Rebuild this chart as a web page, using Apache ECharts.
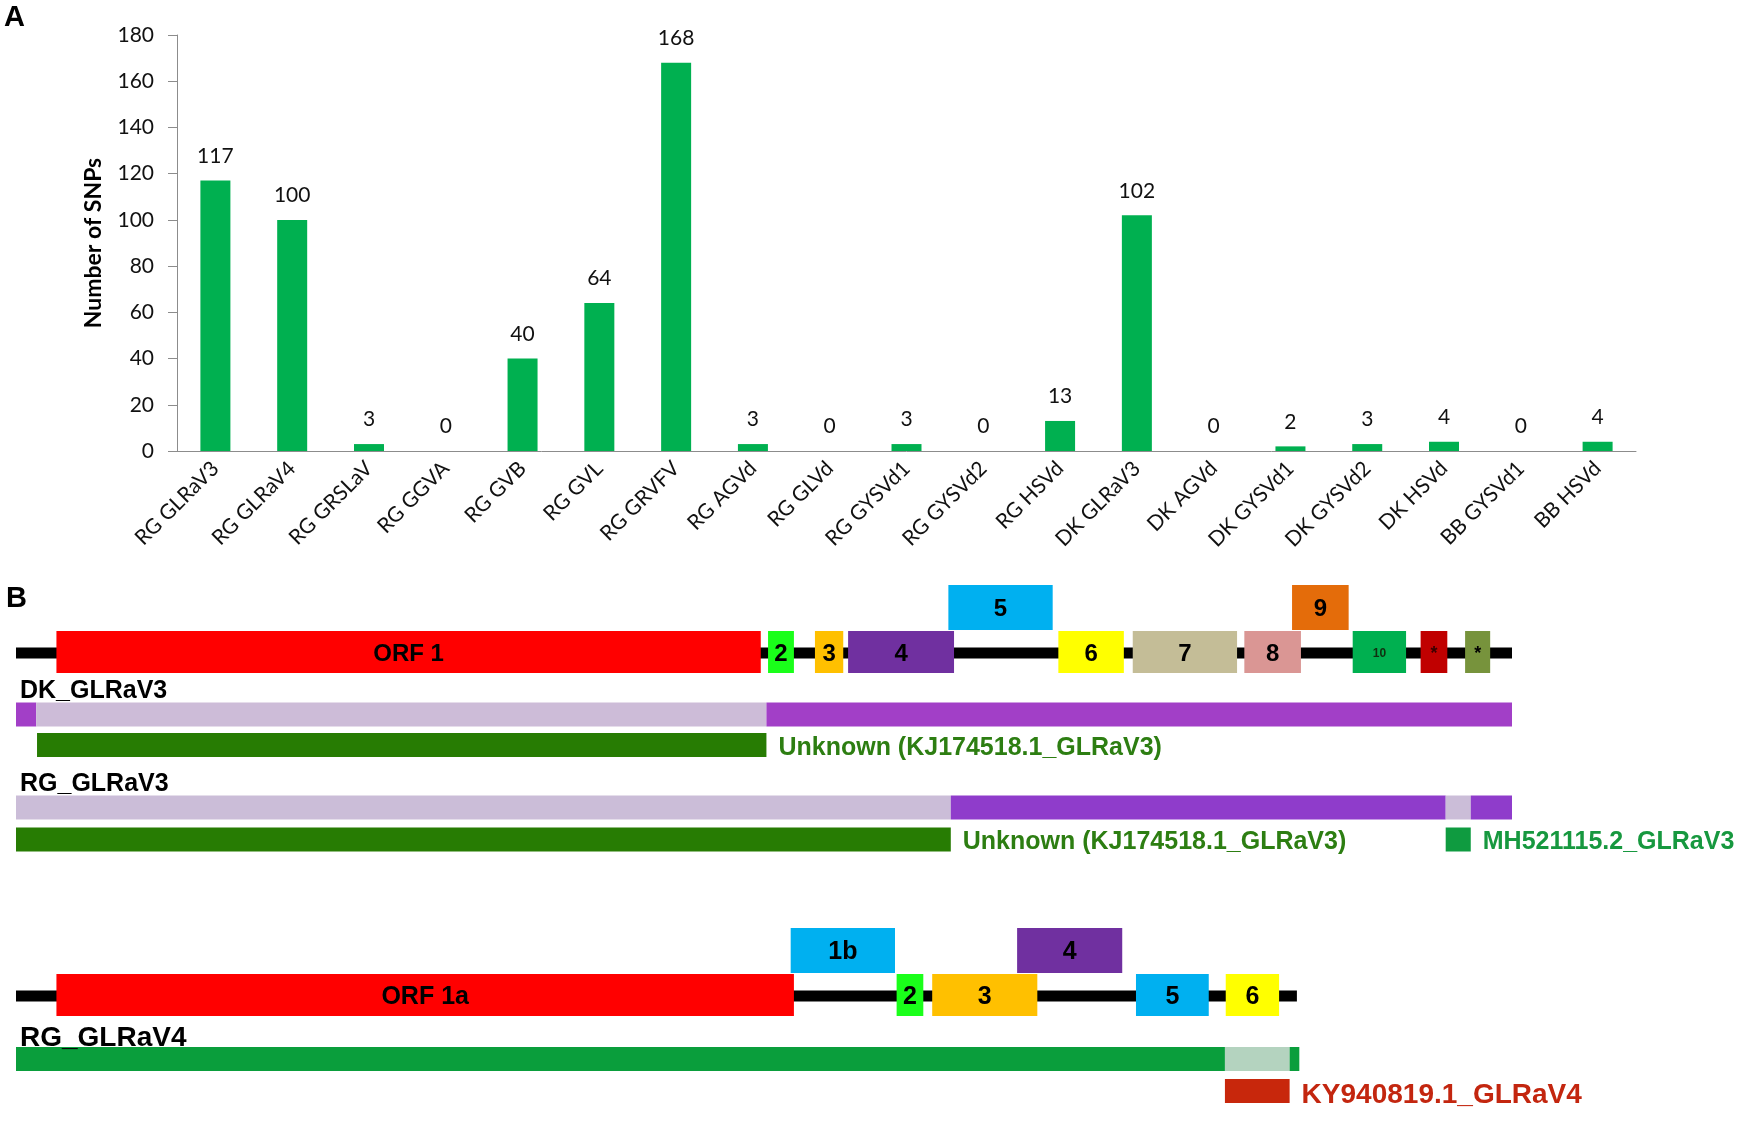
<!DOCTYPE html>
<html>
<head>
<meta charset="utf-8">
<script src="https://cdn.jsdelivr.net/npm/echarts/dist/echarts.min.js"></script>
<style>
  html, body { margin: 0; padding: 0; background: #fff; }
  #chart { width: 1752px; height: 1128px; }
</style>
</head>
<body>
<div id="chart"></div>
<script>
// ---- Panel A: SNP counts per virus/viroid ----
const viruses = ['RG GLRaV3', 'RG GLRaV4', 'RG GRSLaV', 'RG GGVA', 'RG GVB', 'RG GVL', 'RG GRVFV',
  'RG AGVd', 'RG GLVd', 'RG GYSVd1', 'RG GYSVd2', 'RG HSVd', 'DK GLRaV3', 'DK AGVd',
  'DK GYSVd1', 'DK GYSVd2', 'DK HSVd', 'BB GYSVd1', 'BB HSVd'];
const snpCounts = [117, 100, 3, 0, 40, 64, 168, 3, 0, 3, 0, 13, 102, 0, 2, 3, 4, 0, 4];

// ---- Panel B: genome maps (positions in nt, drawing scale) ----
// [label, start, end, lane]  lane 0 = on the genome line, 1 = raised
const glrav3Length = 18500;
const glrav3Orfs = [
  ['ORF 1', 500, 9210, 0], ['2', 9300, 9620, 0], ['3', 9880, 10230, 0], ['4', 10290, 11600, 0],
  ['5', 11530, 12820, 1], ['6', 12890, 13700, 0], ['7', 13810, 15100, 0], ['8', 15190, 15890, 0],
  ['9', 15780, 16480, 1], ['10', 16530, 17190, 0], ['*', 17370, 17700, 0], ['*', 17920, 18230, 0]
];
const glrav4Length = 15840;
const glrav4Orfs = [
  ['ORF 1a', 500, 9620, 0], ['1b', 9580, 10870, 1], ['2', 10890, 11220, 0], ['3', 11330, 12630, 0],
  ['4', 12380, 13680, 1], ['5', 13850, 14750, 0], ['6', 14960, 15620, 0]
];

// assembled contigs: [start, end, kind]  kind 0 = conserved, 1 = variable / matching
const dkSegments = [[0, 250, 1], [250, 9280, 0], [9280, 18500, 1]];
const rgSegments = [[0, 11560, 0], [11560, 17680, 1], [17680, 17990, 0], [17990, 18500, 1]];
const rg4Segments = [[0, 14950, 1], [14950, 15750, 0], [15750, 15870, 1]];

// closest references: [start, end, accession]
const dkHits = [[260, 9280, 'Unknown (KJ174518.1_GLRaV3)']];
const rgHits = [[0, 11560, 'Unknown (KJ174518.1_GLRaV3)'], [17680, 17990, 'MH521115.2_GLRaV3']];
const rg4Hits = [[14950, 15750, 'KY940819.1_GLRaV4']];

// ---- styles / layout ----
const FONT_A = 'Lato, "Open Sans", sans-serif';
const FONT_B = '"Liberation Sans", Arial, sans-serif';
const glrav3Colors = ['#ff0000', '#1aff1a', '#ffc000', '#7030a0', '#00b0f0', '#ffff00',
  '#c4bd97', '#da9694', '#e46c0a', '#00b050', '#c00000', '#77933c'];
const glrav4Colors = ['#ff0000', '#00b0f0', '#1aff1a', '#ffc000', '#7030a0', '#00b0f0', '#ffff00'];
const hitColors = {
  'Unknown (KJ174518.1_GLRaV3)': ['#277c03', '#2d7e12'],
  'MH521115.2_GLRaV3': ['#0f9b40', '#17983f'],
  'KY940819.1_GLRaV4': ['#c8270c', '#c3260f']
};
// y offsets (px) inside panel B
const ROW = {
  g3Line: 83, dkName: 121, dkCov: 144.5, dkHit: 175,
  rgName: 214.5, rgCov: 237.5, rgHit: 269.5,
  g4Line: 426, rg4Name: 468.5, rg4Cov: 489, rg4Hit: 521
};

// build custom-series rows
const orfData = [], orfInfo = [];
function addOrfs(list, colors, lineY, size) {
  list.forEach((o, i) => {
    orfData.push([o[1], o[2], lineY, o[3]]);
    let fs = size, fill = '#000';
    if (o[0] === '10') { fs = 12; fill = '#103010'; }
    if (o[0] === '*') { fs = 18; fill = i === 10 ? '#3a0000' : '#000'; }
    orfInfo.push({ label: o[0], color: colors[i], fs, fill });
  });
}
addOrfs(glrav3Orfs, glrav3Colors, ROW.g3Line, 24);
addOrfs(glrav4Orfs, glrav4Colors, ROW.g4Line, 25);

const segData = [], segColor = [];
function addSegs(list, y, palette) {
  list.forEach(s => { segData.push([s[0], s[1], y]); segColor.push(palette[s[2]]); });
}
addSegs(dkSegments, ROW.dkCov, ['#cdbcd8', '#a23fc7']);
addSegs(rgSegments, ROW.rgCov, ['#cbbdd8', '#8f3ccb']);
addSegs(rg4Segments, ROW.rg4Cov, ['#b4d3bf', '#0a9e3c']);

const hitData = [], hitInfo = [];
function addHits(list, y, fs, dy) {
  list.forEach(h => { hitData.push([h[0], h[1], y]); hitInfo.push({ label: h[2], fs, dy }); });
}
addHits(dkHits, ROW.dkHit, 25, 3);
addHits(rgHits, ROW.rgHit, 25, 3);
addHits(rg4Hits, ROW.rg4Hit, 28, 4);

const trackNames = [['DK_GLRaV3', ROW.dkName, 25], ['RG_GLRaV3', ROW.rgName, 25], ['RG_GLRaV4', ROW.rg4Name, 28]];

function box(api, x0, x1, y0, y1) {
  const p0 = api.coord([x0, y0]);
  const p1 = api.coord([x1, y1]);
  return { x: p0[0], y: p0[1], width: p1[0] - p0[0], height: p1[1] - p0[1] };
}

const chart = echarts.init(document.getElementById('chart'));
chart.setOption({
  animation: false,
  backgroundColor: '#fff',
  graphic: [
    { type: 'text', left: 4, top: 3, style: { text: 'A', font: 'bold 29px ' + FONT_B, fill: '#000' } },
    { type: 'text', left: 6, top: 584, style: { text: 'B', font: 'bold 29px ' + FONT_B, fill: '#000' } }
  ],
  grid: [
    { left: 177, right: 116, top: 35, height: 416 },
    { left: 16, right: 240, top: 570, height: 558 }
  ],
  xAxis: [
    {
      type: 'category', gridIndex: 0, data: viruses,
      axisLine: { lineStyle: { color: '#8c8c8c' } },
      axisTick: { length: 9, lineStyle: { color: '#8c8c8c' } },
      axisLabel: { rotate: 45, margin: 14, fontFamily: FONT_A, fontSize: 21, color: '#111', interval: 0 }
    },
    { type: 'value', gridIndex: 1, min: 0, max: glrav3Length, show: false }
  ],
  yAxis: [
    {
      type: 'value', gridIndex: 0, min: 0, max: 180, interval: 20,
      name: 'Number of SNPs', nameLocation: 'middle', nameGap: 72,
      nameTextStyle: { fontFamily: FONT_A, fontWeight: 'bold', fontSize: 23, color: '#000' },
      axisLine: { show: true, lineStyle: { color: '#8c8c8c' } },
      axisTick: { show: true, length: 9, lineStyle: { color: '#8c8c8c' } },
      splitLine: { show: false },
      axisLabel: { margin: 23, fontFamily: FONT_A, fontSize: 21, color: '#111' }
    },
    { type: 'value', gridIndex: 1, min: 0, max: 558, inverse: true, show: false }
  ],
  series: [
    {
      type: 'bar', xAxisIndex: 0, yAxisIndex: 0, data: snpCounts, barWidth: 30,
      itemStyle: { color: '#00b050' },
      label: { show: true, position: 'top', distance: 14, fontFamily: FONT_A, fontSize: 21, color: '#111' }
    },
    {
      // genome backbones
      type: 'custom', xAxisIndex: 1, yAxisIndex: 1, silent: true, z: 1,
      data: [[0, glrav3Length, ROW.g3Line], [0, glrav4Length, ROW.g4Line]],
      encode: { x: [0, 1], y: 2 },
      renderItem(params, api) {
        const y = api.value(2);
        return { type: 'rect', shape: box(api, api.value(0), api.value(1), y - 5.5, y + 5.5), style: { fill: '#000' } };
      }
    },
    {
      // ORF boxes
      type: 'custom', xAxisIndex: 1, yAxisIndex: 1, silent: true, z: 2,
      data: orfData, encode: { x: [0, 1], y: 2 },
      renderItem(params, api) {
        const info = orfInfo[params.dataIndex];
        const y = api.value(2), raised = api.value(3) === 1;
        const r = box(api, api.value(0), api.value(1), raised ? y - 68 : y - 22, raised ? y - 23 : y + 20);
        return {
          type: 'group', children: [
            { type: 'rect', shape: r, style: { fill: info.color } },
            { type: 'text', style: { text: info.label, x: r.x + r.width / 2, y: r.y + r.height / 2 + 2,
              align: 'center', verticalAlign: 'middle', font: 'bold ' + info.fs + 'px ' + FONT_B, fill: info.fill } }
          ]
        };
      }
    },
    {
      // contig segments
      type: 'custom', xAxisIndex: 1, yAxisIndex: 1, silent: true, z: 2,
      data: segData, encode: { x: [0, 1], y: 2 },
      renderItem(params, api) {
        const y = api.value(2);
        return { type: 'rect', shape: box(api, api.value(0), api.value(1), y - 12, y + 12), style: { fill: segColor[params.dataIndex] } };
      }
    },
    {
      // closest reference hits
      type: 'custom', xAxisIndex: 1, yAxisIndex: 1, silent: true, z: 2,
      data: hitData, encode: { x: [0, 1], y: 2 },
      renderItem(params, api) {
        const info = hitInfo[params.dataIndex];
        const c = hitColors[info.label];
        const y = api.value(2);
        const r = box(api, api.value(0), api.value(1), y - 12, y + 12);
        return {
          type: 'group', children: [
            { type: 'rect', shape: r, style: { fill: c[0] } },
            { type: 'text', style: { text: info.label, x: r.x + r.width + 12, y: r.y + r.height / 2 + info.dy,
              align: 'left', verticalAlign: 'middle', font: 'bold ' + info.fs + 'px ' + FONT_B, fill: c[1] } }
          ]
        };
      }
    },
    {
      // track names
      type: 'custom', xAxisIndex: 1, yAxisIndex: 1, silent: true, z: 2,
      data: trackNames.map(t => [0, t[1]]), encode: { x: 0, y: 1 },
      renderItem(params, api) {
        const t = trackNames[params.dataIndex];
        const p = api.coord([api.value(0), api.value(1)]);
        return { type: 'text', style: { text: t[0], x: p[0] + 4, y: p[1], align: 'left', verticalAlign: 'middle',
          font: 'bold ' + t[2] + 'px ' + FONT_B, fill: '#000' } };
      }
    }
  ]
});
</script>
</body>
</html>
